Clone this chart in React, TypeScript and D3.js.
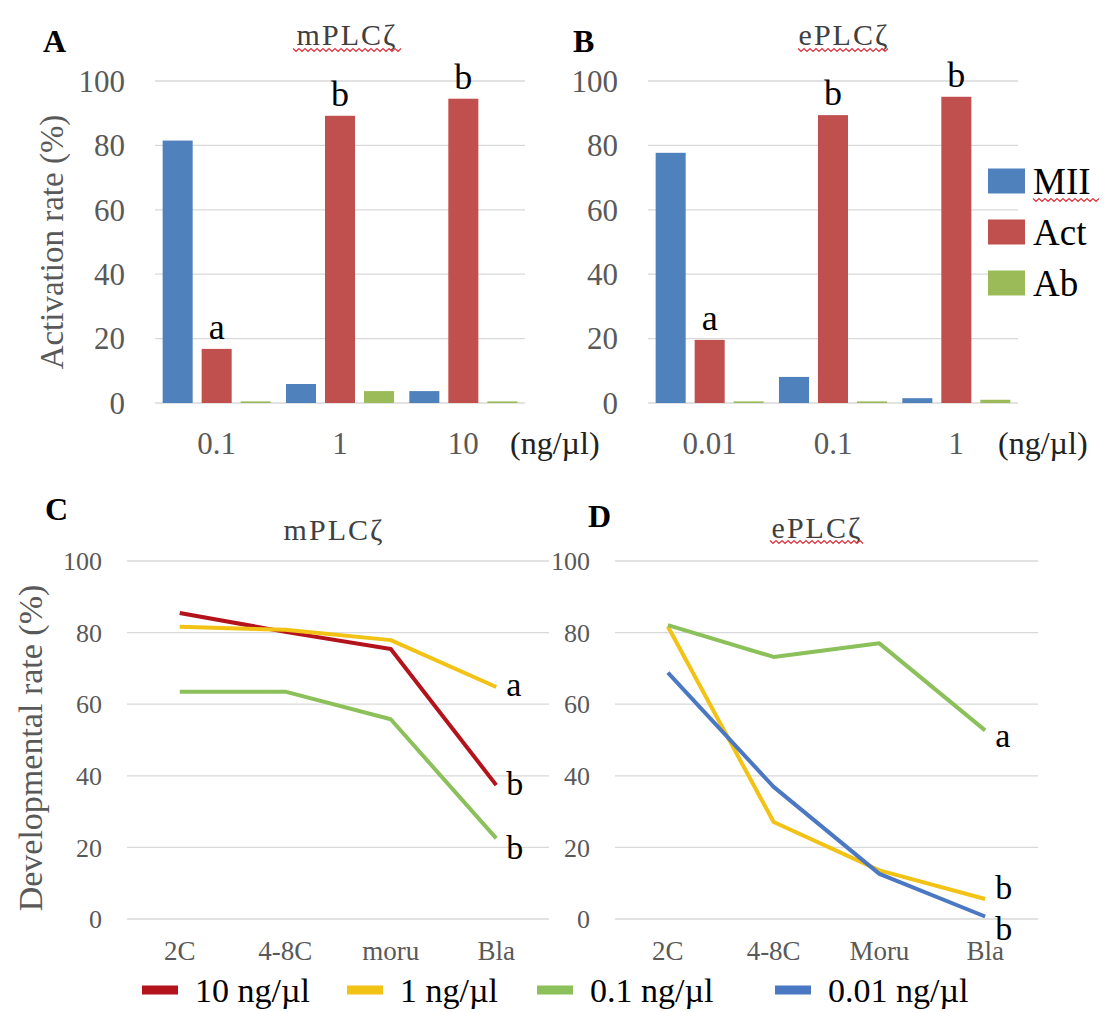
import React from "react";
import * as d3 from "d3";

// activation (panels A, B)
const doseMouse = ["0.1", "1", "10"];
const doseEquine = ["0.01", "0.1", "1"];
const outcomes = ["MII", "Act", "Ab"];
const mouseMII = [81.5, 5.9, 3.7];
const mouseAct = [16.8, 89.2, 94.5];
const mouseAb = [0.5, 3.7, 0.5];
const equineMII = [77.7, 8.1, 1.5];
const equineAct = [19.6, 89.4, 95.1];
const equineAb = [0.5, 0.5, 1.0];
const actLetters = ["a", "b", "b"];

// development (panels C, D)
const stagesMouse = ["2C", "4-8C", "moru", "Bla"];
const stagesEquine = ["2C", "4-8C", "Moru", "Bla"];
const doseLabels = ["10 ng/µl", "1 ng/µl", "0.1 ng/µl", "0.01 ng/µl"];
const mouse10 = [85.5, 80.2, 75.4, 37.4];
const mouse1 = [81.6, 80.8, 77.9, 64.8];
const mouse01 = [63.5, 63.5, 55.8, 22.5];
const equine1 = [81.7, 27.1, 13.6, 5.6];
const equine01 = [82.1, 73.2, 77.0, 52.7];
const equine001 = [68.8, 36.9, 12.6, 0.7];
const devLettersMouse = ["b", "a", "b"]; // 10, 1, 0.1
const devLettersEquine = ["b", "a", "b"]; // 1, 0.1, 0.01

const serif = "'Liberation Serif', 'Times New Roman', serif";
const GRAY = "#595959";
const GRID = "#d9d9d9";
const barColors = ["#4F81BD", "#C0504D", "#9BBB59"];
const lineColors: Record<string, string> = {
  "10 ng/µl": "#B3141C",
  "1 ng/µl": "#F2C314",
  "0.1 ng/µl": "#8CC05A",
  "0.01 ng/µl": "#4A78C2",
};

// red spell-check squiggle under a word
function squiggle(x0: number, x1: number, y: number) {
  const pts = d3.range(x0, x1 + 0.1, 3).map((x, i) => [x, y + (i % 2 ? 1.5 : -1.5)] as [number, number]);
  return <path d={d3.line()(pts) || ""} fill="none" stroke="#e0303a" strokeWidth={1.2} />;
}

function BarPanel({ x0, x1, cats, data, letters }: any) {
  const y = d3.scaleLinear().domain([0, 100]).range([403, 81]);
  const x = d3.scaleBand().domain(cats).range([x0, x1]);
  const xs = d3.scaleBand().domain(outcomes).range([0, x.bandwidth()]).paddingInner(0.23).paddingOuter(0.196);
  const ticks = y.ticks(5);
  return (
    <g>
      {ticks.map((t) => (
        <line key={"g" + t} x1={x0} x2={x1} y1={y(t)} y2={y(t)} stroke={GRID} strokeWidth={1.3} />
      ))}
      {ticks.map((t) => (
        <text key={"t" + t} x={x0 - 30} y={y(t)} dy="0.35em" textAnchor="end" fontSize={31} fill={GRAY}>
          {t}
        </text>
      ))}
      {cats.map((c: string, i: number) =>
        outcomes.map((o, j) => (
          <rect
            key={c + o}
            x={(x(c) as number) + (xs(o) as number)}
            y={y(data[j][i])}
            width={xs.bandwidth()}
            height={y(0) - y(data[j][i])}
            fill={barColors[j]}
          />
        ))
      )}
      {cats.map((c: string) => (
        <text key={"c" + c} x={(x(c) as number) + x.bandwidth() / 2} y={443} dy="0.35em" textAnchor="middle" fontSize={31} fill={GRAY}>
          {c}
        </text>
      ))}
      {cats.map((c: string, i: number) => (
        <text
          key={"l" + c}
          x={(x(c) as number) + (xs("Act") as number) + xs.bandwidth() / 2}
          y={y(data[1][i]) - 10}
          textAnchor="middle"
          fontSize={36}
          fill="#000"
        >
          {letters[i]}
        </text>
      ))}
    </g>
  );
}

function LinePanel({ x0, x1, cats, series, letters, offsets }: any) {
  const y = d3.scaleLinear().domain([0, 100]).range([919, 561]);
  const x = d3.scaleBand().domain(cats).range([x0, x1]);
  const cx = (c: string) => (x(c) as number) + x.bandwidth() / 2;
  const ticks = y.ticks(5);
  const line = d3
    .line<number>()
    .x((_, i) => cx(cats[i]))
    .y((d) => y(d));
  const last = cats[cats.length - 1];
  return (
    <g>
      {ticks.map((t) => (
        <line key={"g" + t} x1={x0} x2={x1} y1={y(t)} y2={y(t)} stroke={GRID} strokeWidth={1.3} />
      ))}
      {ticks.map((t) => (
        <text key={"t" + t} x={x0 - 25} y={y(t)} dy="0.35em" textAnchor="end" fontSize={26} fill={GRAY}>
          {t}
        </text>
      ))}
      {cats.map((c: string) => (
        <text key={"c" + c} x={cx(c)} y={951} dy="0.35em" textAnchor="middle" fontSize={27} fill={GRAY}>
          {c}
        </text>
      ))}
      {series.map((s: any) => (
        <path key={s.name} d={line(s.values) || ""} fill="none" stroke={lineColors[s.name]} strokeWidth={4} strokeLinejoin="round" />
      ))}
      {series.map((s: any, i: number) => (
        <text key={"l" + s.name} x={cx(last) + 10} y={y(s.values[s.values.length - 1]) + offsets[i]} fontSize={34} fill="#000">
          {letters[i]}
        </text>
      ))}
    </g>
  );
}

export default function App() {
  const mouseSeries = [
    { name: doseLabels[0], values: mouse10 },
    { name: doseLabels[1], values: mouse1 },
    { name: doseLabels[2], values: mouse01 },
  ];
  const equineSeries = [
    { name: doseLabels[1], values: equine1 },
    { name: doseLabels[2], values: equine01 },
    { name: doseLabels[3], values: equine001 },
  ];
  const legendX = [142, 347, 537, 775];

  return (
    <svg
      width={1105}
      height={1012}
      style={{ position: "absolute", left: 0, top: 0, background: "#fff" }}
      fontFamily={serif}
    >
      <rect width={1105} height={1012} fill="#fff" />

      {/* A */}
      <text x={43} y={52} fontSize={32} fontWeight="bold">A</text>
      <text x={347} y={45} textAnchor="middle" fontSize={30} fill="#404040" letterSpacing={2}>mPLCζ</text>
      {squiggle(293, 403, 50)}
      <text transform="translate(51,242) rotate(-90)" textAnchor="middle" dy="0.35em" fontSize={33} fill={GRAY}>
        Activation rate (%)
      </text>
      <BarPanel x0={155} x1={525} cats={doseMouse} data={[mouseMII, mouseAct, mouseAb]} letters={actLetters} />
      <text x={510} y={443} dy="0.35em" fontSize={32} fill="#222">(ng/µl)</text>

      {/* B */}
      <text x={573} y={52} fontSize={32} fontWeight="bold">B</text>
      <text x={844} y={45} textAnchor="middle" fontSize={30} fill="#404040" letterSpacing={2}>ePLCζ</text>
      {squiggle(798, 890, 50)}
      <BarPanel x0={648} x1={1018} cats={doseEquine} data={[equineMII, equineAct, equineAb]} letters={actLetters} />
      <text x={998} y={443} dy="0.35em" fontSize={32} fill="#222">(ng/µl)</text>
      {outcomes.map((o, i) => (
        <g key={o} transform={`translate(988,${181 + i * 51})`}>
          <rect x={0} y={-12.5} width={37} height={25} fill={barColors[i]} />
          <text x={45} y={0} dy="0.35em" fontSize={37} fill="#000">{o}</text>
        </g>
      ))}
      {squiggle(1033, 1100, 200)}

      {/* C */}
      <text x={45} y={520} fontSize={32} fontWeight="bold">C</text>
      <text x={334} y={540} textAnchor="middle" fontSize={30} fill="#404040" letterSpacing={2}>mPLCζ</text>
      <text transform="translate(30,748) rotate(-90)" textAnchor="middle" dy="0.35em" fontSize={34} fill={GRAY}>
        Developmental rate (%)
      </text>
      <LinePanel x0={127} x1={549} cats={stagesMouse} series={mouseSeries} letters={devLettersMouse} offsets={[10, 9, 21]} />

      {/* D */}
      <text x={588} y={527} fontSize={32} fontWeight="bold">D</text>
      <text x={817} y={538} textAnchor="middle" fontSize={30} fill="#404040" letterSpacing={2}>ePLCζ</text>
      {squiggle(770, 863, 542)}
      <LinePanel x0={615} x1={1038} cats={stagesEquine} series={equineSeries} letters={devLettersEquine} offsets={[0, 17, 24]} />

      {/* bottom legend */}
      {doseLabels.map((d, i) => (
        <g key={d} transform={`translate(${legendX[i]},990)`}>
          <rect x={0} y={-4.5} width={36} height={9} fill={lineColors[d]} />
          <text x={53} y={0} dy="0.35em" fontSize={34} fill="#000">{d}</text>
        </g>
      ))}
    </svg>
  );
}
